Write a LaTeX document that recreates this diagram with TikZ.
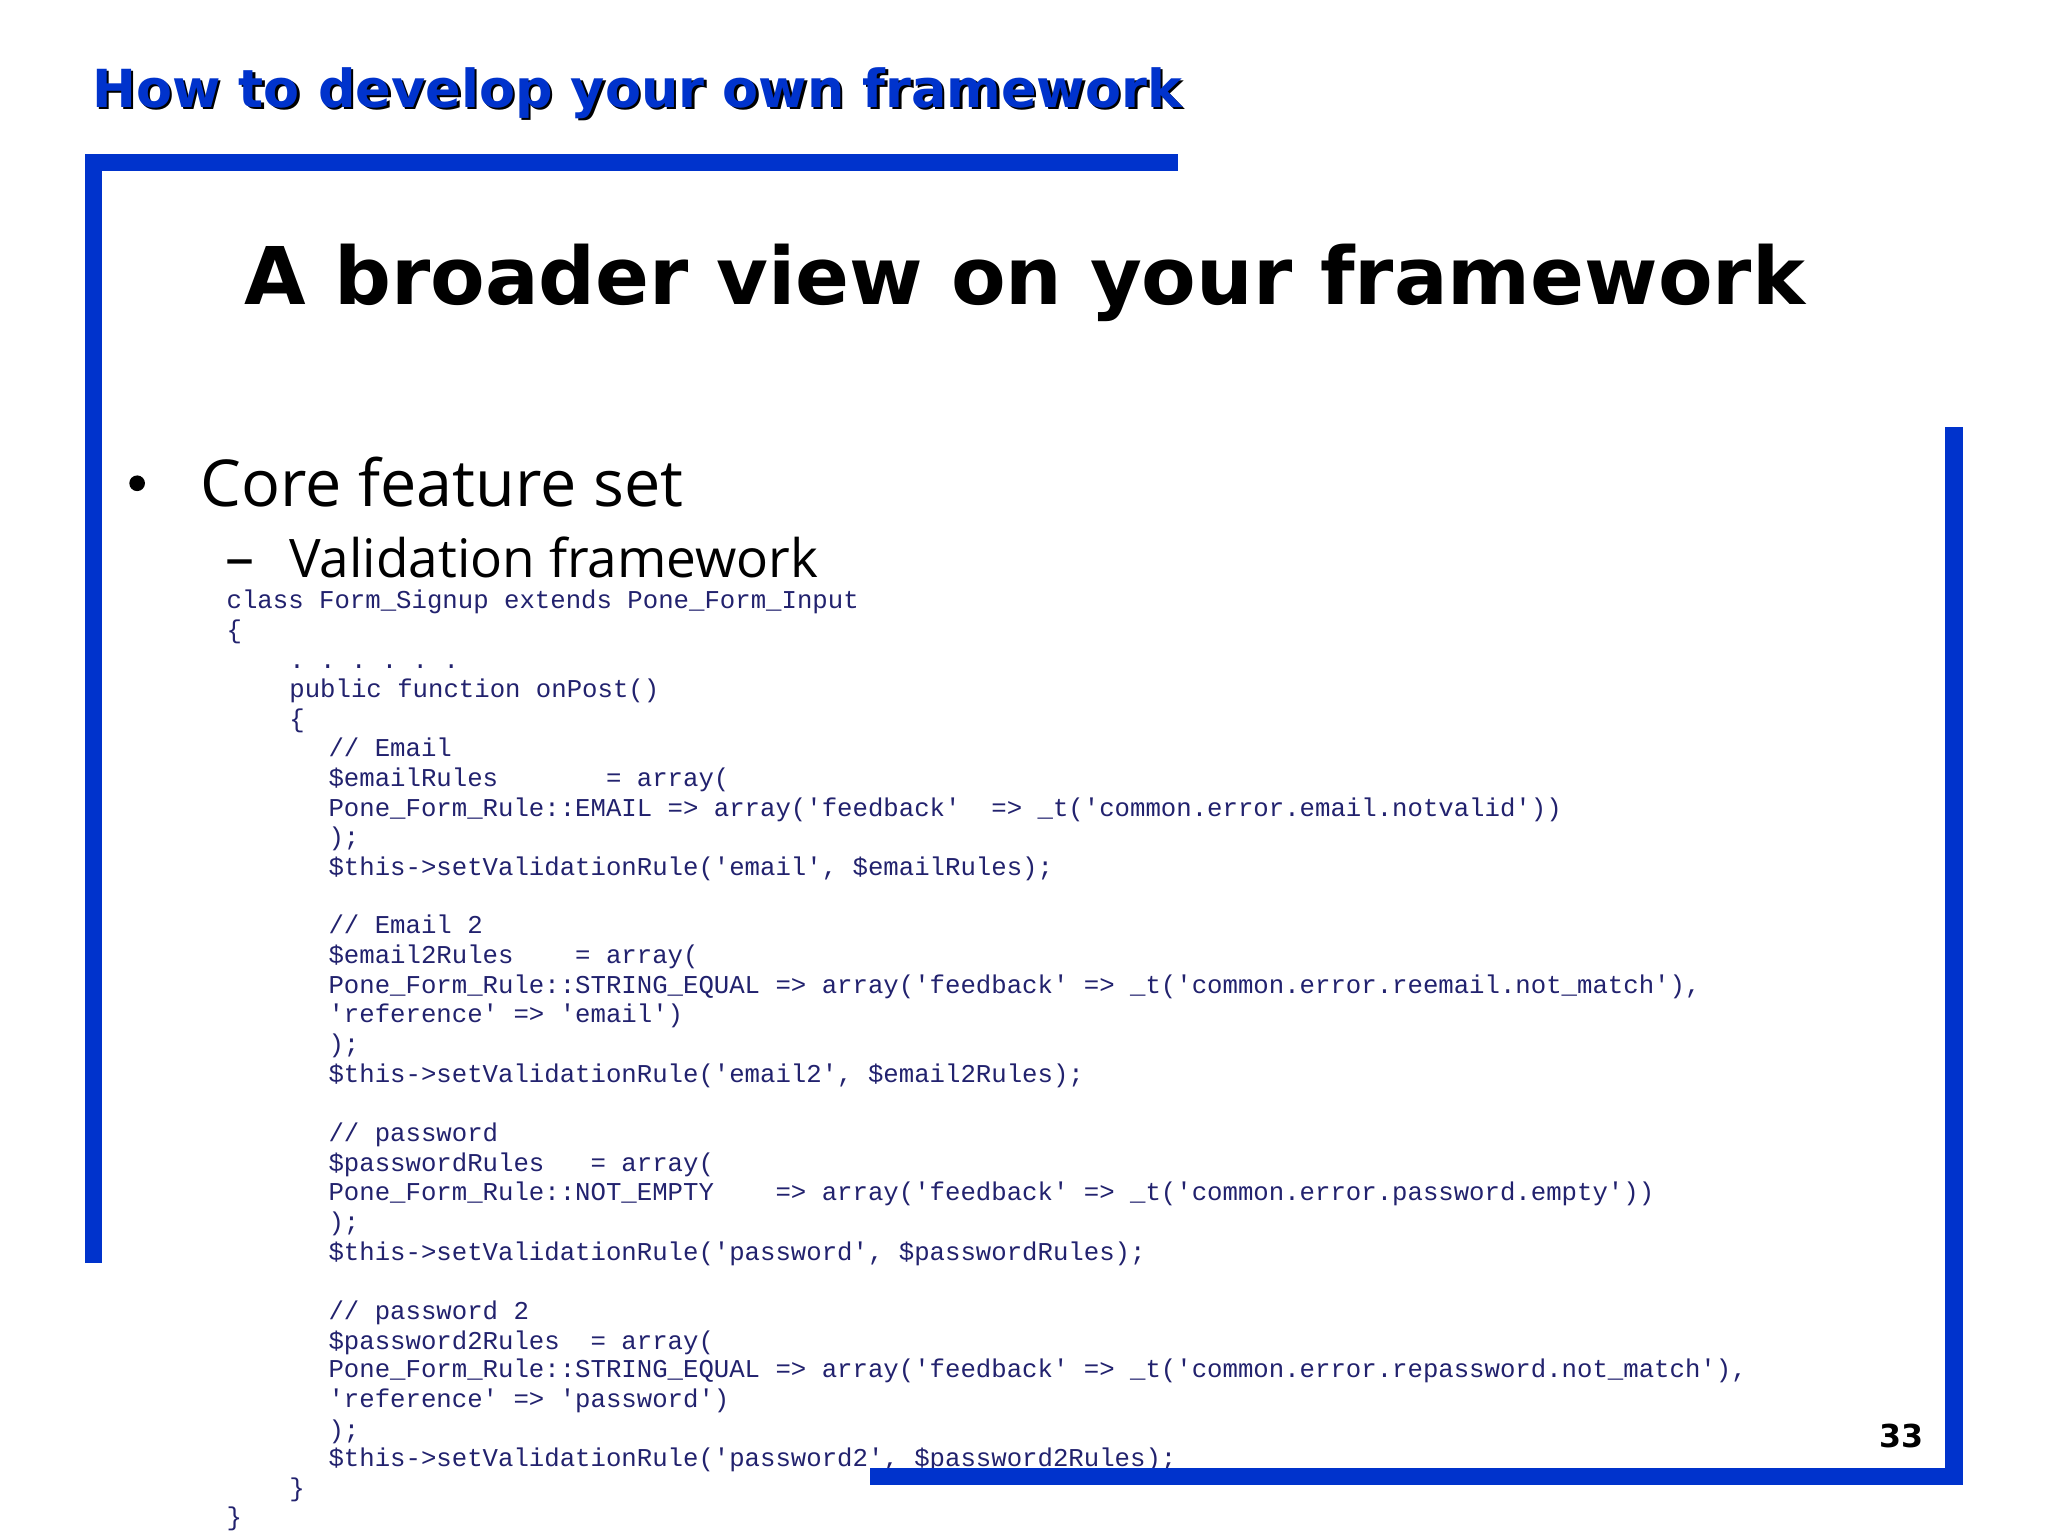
\documentclass[tikz,border=0pt]{standalone}
\usepackage{fontspec}
\setmainfont{DejaVu Sans}
\setmonofont{Liberation Mono}
\newfontfamily\bodyfont{Open Sans}
\usepackage{graphicx}
\definecolor{fw}{RGB}{0,51,204}
\definecolor{code}{RGB}{34,34,110}
\tikzset{
  cl/.style={anchor=base west,inner sep=0pt,font=\fontsize{7.31pt}{8pt}\ttfamily,text=code},
  bar/.style={fill=fw,draw=none}
}
\newcommand\clx[3]{\node[cl] at (#1,#2) {#3};}
\begin{document}
\begin{tikzpicture}[x=0.01306cm,y=-0.01306cm]
\useasboundingbox[fill=white] (0,0) rectangle (1568,1176);
% frame
\fill[bar] (65,118) rectangle (902,131);
\fill[bar] (65,118) rectangle (78,967);
\fill[bar] (1489,327) rectangle (1503,1137);
% header
\node[anchor=base west,inner sep=0pt,text=black] (hs) at (72,84) {\resizebox{10.9cm}{!}{\bfseries How to develop your own framework}};
\node[anchor=base west,inner sep=0pt,text=fw] (h) at (70,82) {\resizebox{10.9cm}{!}{\bfseries How to develop your own framework}};
\node[anchor=base west,inner sep=0pt] (t) at (187,233) {\resizebox{15.6cm}{!}{\bfseries A broader view on your framework}};
\fill (105,370) circle (6);
\node[anchor=base west,inner sep=0pt] (b1) at (153,388) {\resizebox{4.83cm}{!}{\bodyfont Core feature set}};
\node[anchor=base west,inner sep=0pt] (d1) at (172,442) {\resizebox{0.29cm}{!}{\bodyfont –}};
\node[anchor=base west,inner sep=0pt] (b2) at (221,442) {\resizebox{5.29cm}{!}{\bodyfont Validation framework}};
% code
\clx{173}{466}{class Form\_Signup extends Pone\_Form\_Input}
\clx{173}{489}{\{}
\clx{221}{512}{. . . . . .}
\clx{221}{534}{public function onPost()}
\clx{221}{557}{\{}
\clx{251}{579}{// Email}
\clx{251}{602}{\$emailRules~~~~~~~= array(}
\clx{251}{625}{Pone\_Form\_Rule::EMAIL => array('feedback'~~=> \_t('common.error.email.notvalid'))}
\clx{251}{647}{);}
\clx{251}{670}{\$this->setValidationRule('email', \$emailRules);}
\clx{251}{715}{// Email 2}
\clx{251}{738}{\$email2Rules~~~~= array(}
\clx{251}{761}{Pone\_Form\_Rule::STRING\_EQUAL => array('feedback' => \_t('common.error.reemail.not\_match'),}
\clx{251}{783}{'reference' => 'email')}
\clx{251}{806}{);}
\clx{251}{829}{\$this->setValidationRule('email2', \$email2Rules);}
\clx{251}{874}{// password}
\clx{251}{897}{\$passwordRules~~~= array(}
\clx{251}{919}{Pone\_Form\_Rule::NOT\_EMPTY~~~~=> array('feedback' => \_t('common.error.password.empty'))}
\clx{251}{942}{);}
\clx{251}{965}{\$this->setValidationRule('password', \$passwordRules);}
\clx{251}{1010}{// password 2}
\clx{251}{1033}{\$password2Rules~~= array(}
\clx{251}{1055}{Pone\_Form\_Rule::STRING\_EQUAL => array('feedback' => \_t('common.error.repassword.not\_match'),}
\clx{251}{1078}{'reference' => 'password')}
\clx{251}{1101}{);}
\clx{251}{1123}{\$this->setValidationRule('password2', \$password2Rules);}
\clx{221}{1146}{\}}
\clx{173}{1168}{\}}
\fill[bar] (666,1124) rectangle (1503,1137);
\node[anchor=base east,inner sep=0pt,font=\bfseries\fontsize{9pt}{10pt}\selectfont] (pn) at (1473,1108) {33};
\end{tikzpicture}
\end{document}
